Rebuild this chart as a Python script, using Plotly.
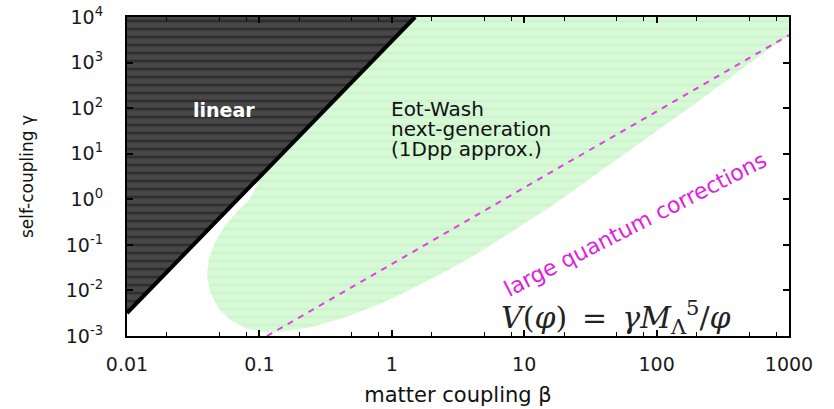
import plotly.graph_objects as go

# Axis ticks
x_tick_vals = [0.01, 0.1, 1, 10, 100, 1000]
x_tick_text = ["0.01", "0.1", "1", "10", "100", "1000"]
x_minor_vals = [m * 10.0 ** e for e in range(-2, 3) for m in (2, 5, 8)]
y_tick_vals = [1e-3, 1e-2, 1e-1, 1, 10, 100, 1e3, 1e4]
y_tick_text = ["10<sup>-3</sup>", "10<sup>-2</sup>", "10<sup>-1</sup>", "10<sup>0</sup>",
               "10<sup>1</sup>", "10<sup>2</sup>", "10<sup>3</sup>", "10<sup>4</sup>"]

# Linear-regime boundary (gamma ~ beta^3)
linear_beta = [0.01, 1.5]
linear_gamma = [0.0032, 1e4]

# Eot-Wash next-generation reach (closed contour)
eot_beta = [1.4, 1000, 1000, 507, 213, 89, 37.4, 15.7, 8.23, 4.64, 2.61, 1.63, 1.15,
            0.815, 0.459, 0.254, 0.170, 0.120, 0.0805, 0.060, 0.0486, 0.0424, 0.0402,
            0.0416, 0.0463, 0.055, 0.0689, 0.0849, 0.12]
eot_gamma = [1e4, 1e4, 4030, 980, 151, 24.5, 3.99, 0.681, 0.203, 0.0702, 0.0269, 0.0133,
             0.00801, 0.00508, 0.00264, 0.00159, 0.00130, 0.00117, 0.00144, 0.00226,
             0.00415, 0.00931, 0.0220, 0.0519, 0.1164, 0.261, 0.557, 1.02, 8.0]

# Large quantum corrections threshold
quantum_beta = [0.114, 1000]
quantum_gamma = [1e-3, 4000]

fig = go.Figure()

fig.add_trace(go.Scatter(
    x=eot_beta, y=eot_gamma, mode="lines", fill="toself", line=dict(width=0),
    fillcolor="#d3f8d3",
    fillpattern=dict(shape="-", bgcolor="#d6f9d6", fgcolor="#c4efc4", size=8, solidity=0.3),
    hoverinfo="skip", showlegend=False))

fig.add_trace(go.Scatter(
    x=[linear_beta[0], linear_beta[1], linear_beta[0]],
    y=[linear_gamma[0], linear_gamma[1], linear_gamma[1]],
    mode="lines", fill="toself", line=dict(width=0), fillcolor="#3e3e3e",
    fillpattern=dict(shape="-", bgcolor="#474747", fgcolor="#161616", size=8, solidity=0.35),
    hoverinfo="skip", showlegend=False))

fig.add_trace(go.Scatter(
    x=linear_beta, y=linear_gamma, mode="lines",
    line=dict(color="black", width=4), hoverinfo="skip", showlegend=False))

fig.add_trace(go.Scatter(
    x=quantum_beta, y=quantum_gamma, mode="lines",
    line=dict(color="#e040e0", width=2, dash="6px,6px"), hoverinfo="skip", showlegend=False))

base_font = "DejaVu Sans, Verdana, sans-serif"

fig.add_annotation(x=-1.267, y=1.96, text="<b>linear</b>", showarrow=False,
                   font=dict(family=base_font, size=19, color="white"))

# Eot-Wash label, one line per annotation for tight line spacing
eot_lines = ["Eot-Wash", "next-generation", "(1Dpp approx.)"]
eot_line_y = [1.99, 1.54, 1.10]
for line_text, ly in zip(eot_lines, eot_line_y):
    fig.add_annotation(x=-0.02, y=ly, xanchor="left", showarrow=False, text=line_text,
                       font=dict(family=base_font, size=20, color="#111111"))

fig.add_annotation(x=1.84, y=-0.56, text="large quantum corrections", showarrow=False,
                   textangle=-27, font=dict(family=base_font, size=22, color="#e020e0"))
fig.add_annotation(x=1.693, y=-2.60, showarrow=False,
                   text="<i>V</i>(<i>φ</i>)\u2002=\u2002<i>γM</i><sub>Λ</sub><sup>5</sup>/<i>φ</i>",
                   font=dict(family="DejaVu Serif, serif", size=30, color="#222222"))

axis_common = dict(
    type="log", showgrid=False, zeroline=False, showline=True, linecolor="black",
    linewidth=2, mirror="ticks", ticks="inside", ticklen=6, tickwidth=1.5, tickcolor="black",
    layer="above traces", automargin=False,
    tickfont=dict(family=base_font, size=19, color="#1a1a1a"))

fig.update_xaxes(
    **axis_common, range=[-2, 3], tickvals=x_tick_vals, ticktext=x_tick_text,
    ticklabelstandoff=10,
    minor=dict(tickvals=x_minor_vals, ticks="inside", ticklen=4, tickwidth=1.2, tickcolor="black"),
    title=dict(text="matter coupling β", font=dict(family=base_font, size=21, color="#111111"),
               standoff=14))
fig.update_yaxes(
    **axis_common, range=[-3, 4], tickvals=y_tick_vals, ticktext=y_tick_text,
    ticklabelstandoff=18,
    title=dict(text="self-coupling γ", font=dict(family=base_font, size=17, color="#111111"),
               standoff=28))

fig.update_layout(
    width=834, height=409, margin=dict(l=127, r=45, t=17, b=73),
    paper_bgcolor="white", plot_bgcolor="white", showlegend=False)

fig.write_html("out.html")
